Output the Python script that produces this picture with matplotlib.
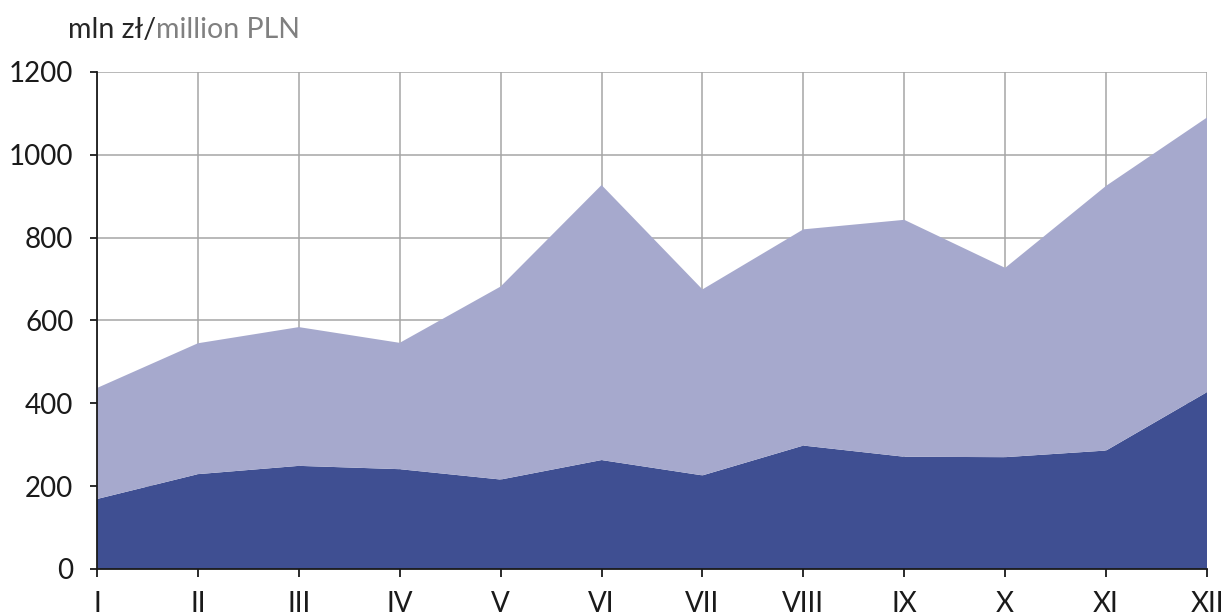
import matplotlib
matplotlib.use("Agg")
import matplotlib.pyplot as plt

# Months (roman numerals) and the two stacked layers, mln zł
months = ["I", "II", "III", "IV", "V", "VI", "VII", "VIII", "IX", "X", "XI", "XII"]
lower_layer = [169, 229, 249, 241, 216, 263, 226, 298, 271, 270, 286, 427]
upper_layer = [268, 316, 335, 305, 466, 664, 449, 522, 572, 457, 639, 663]

dark_blue = "#3f4f92"
light_blue = "#a6a9cd"
grid_grey = "#a6a6a6"

plt.rcParams["font.family"] = ["Lato", "DejaVu Sans"]

def main():
    fig = plt.figure(figsize=(12.25, 6.15), dpi=100)
    ax = fig.add_axes([0.0792, 0.0748, 0.9061, 0.8082])

    x = list(range(1, len(months) + 1))
    ax.stackplot(x, lower_layer, upper_layer, colors=[dark_blue, light_blue],
                 linewidth=0, zorder=2)

    ax.set_xlim(1, 12)
    ax.set_ylim(0, 1200)
    ax.set_yticks(range(0, 1201, 200))
    ax.set_xticks(x)
    ax.set_xticklabels(months)

    ax.grid(True, color=grid_grey, linewidth=1.1, zorder=1)
    ax.set_axisbelow(True)

    for side in ["top", "right"]:
        ax.spines[side].set_visible(False)
    for side in ["left", "bottom"]:
        ax.spines[side].set_color("#1a1a1a")
        ax.spines[side].set_linewidth(1.3)
        ax.spines[side].set_zorder(3)

    ax.tick_params(axis="y", direction="out", length=5, width=1.3, color="#1a1a1a",
                   labelsize=20, pad=12, labelcolor="#1a1a1a")
    ax.tick_params(axis="x", direction="out", length=6, width=1.3, color="#1a1a1a",
                   labelsize=20, pad=10, labelcolor="#1a1a1a")

    # Title in two colours: Polish part dark, English part grey
    t1 = fig.text(0.0555, 0.951, "mln zł/", fontsize=20.5, color="#262626", va="center")
    fig.canvas.draw()
    bb = t1.get_window_extent(renderer=fig.canvas.get_renderer())
    fig.text(bb.x1 / fig.bbox.width, 0.951, "million PLN", fontsize=20.5,
             color="#808080", va="center")

    fig.savefig("out.png", dpi=100)
    plt.close(fig)

if __name__ == "__main__":
    main()
